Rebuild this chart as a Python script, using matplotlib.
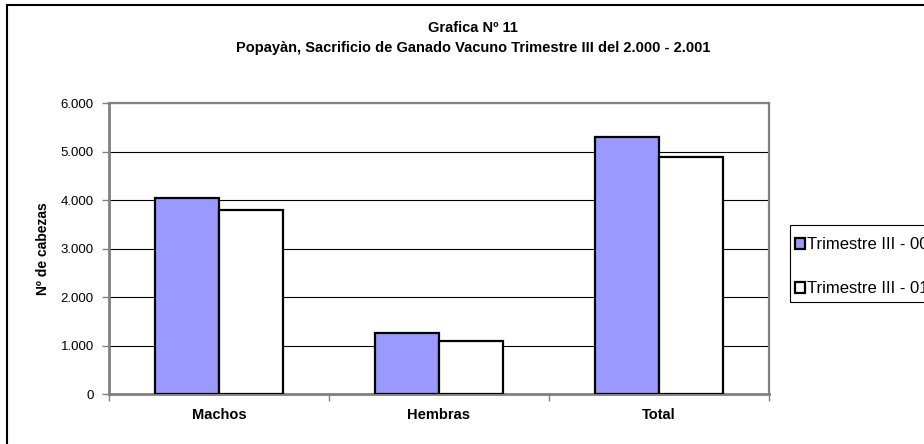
import matplotlib
matplotlib.use("Agg")
import matplotlib.pyplot as plt
from matplotlib.patches import Rectangle
from matplotlib.ticker import FuncFormatter
import numpy as np

plt.rcParams['font.family'] = ['Liberation Sans', 'DejaVu Sans']

categories = ["Machos", "Hembras", "Total"]
series_names = ["Trimestre III - 00", "Trimestre III - 01"]
values_00 = [4050, 1250, 5300]
values_01 = [3800, 1100, 4900]
yticks = [0, 1000, 2000, 3000, 4000, 5000, 6000]
title_line1 = "Grafica Nº 11"
title_line2 = "Popayàn, Sacrificio de Ganado Vacuno Trimestre III del 2.000 - 2.001"
ylabel = "Nº de cabezas"

W, H = 924, 444
fig = plt.figure(figsize=(W / 100, H / 100), dpi=100)
fig.patch.set_facecolor('white')

def fx(px):
    return px / W

def fy(py):
    return 1 - py / H

# outer chart frame (extends beyond the image on right and bottom)
fig.add_artist(Rectangle((fx(7), fy(470)), fx(1000 - 7), (470 - 5) / H,
                         transform=fig.transFigure, fill=False,
                         edgecolor='black', linewidth=1.5))

ax = fig.add_axes([fx(109), fy(394), fx(769 - 109), (394 - 103.5) / H])

x = np.arange(len(categories))
w = 0.289
b1 = ax.bar(x - w / 2, values_00, width=w, color='#9999FF', edgecolor='black',
            linewidth=1.6, label=series_names[0], zorder=3)
b2 = ax.bar(x + w / 2, values_01, width=w, color='white', edgecolor='black',
            linewidth=1.6, label=series_names[1], zorder=3)

ax.set_xlim(-0.5, len(categories) - 0.5)
ax.set_ylim(0, 6000)
ax.set_yticks(yticks)
ax.yaxis.set_major_formatter(FuncFormatter(lambda v, p: f"{int(v):,}".replace(",", ".")))
ax.yaxis.grid(True, color='black', linewidth=0.8, zorder=0)
ax.set_axisbelow(True)

bounds = np.arange(len(categories) + 1) - 0.5
ax.set_xticks(bounds, labels=[""] * len(bounds))
ax.set_xticks(x, labels=categories, minor=True)
ax.tick_params(axis='x', which='major', length=5, color='#808080', width=1)
ax.tick_params(axis='x', which='minor', length=0, pad=10, labelsize=10.5)
for lbl in ax.get_xticklabels(minor=True):
    lbl.set_fontweight('bold')
ax.tick_params(axis='y', length=5, color='#808080', width=1, labelsize=9.5, pad=6)

for s in ['top', 'right']:
    ax.spines[s].set_color('#808080')
    ax.spines[s].set_linewidth(1.6)
for s in ['left', 'bottom']:
    ax.spines[s].set_color('#808080')
    ax.spines[s].set_linewidth(2)

ax.set_ylabel(ylabel, fontsize=10, fontweight='bold')
ax.yaxis.set_label_coords((43 - 109) / 660, 0.5)
ax.yaxis.label.set_va('center')

fig.text(fx(473), fy(28), title_line1, ha='center', va='center', fontsize=10.5, fontweight='bold')
fig.text(fx(473), fy(48), title_line2, ha='center', va='center', fontsize=10.5, fontweight='bold')

# legend frame (partly outside the image, as in the original)
fig.add_artist(Rectangle((fx(790), fy(302)), fx(1100 - 790), (302 - 225) / H,
                         transform=fig.transFigure, fill=False,
                         edgecolor='black', linewidth=0.8))
leg = fig.legend(handles=[b1, b2], labels=series_names, loc='upper left',
                 bbox_to_anchor=(fx(791), fy(233)), frameon=False, fontsize=12,
                 handlelength=0.6, handleheight=0.6, handletextpad=0.1,
                 labelspacing=1.75, borderpad=0.25, borderaxespad=0)

fig.savefig("out.png", dpi=100)
